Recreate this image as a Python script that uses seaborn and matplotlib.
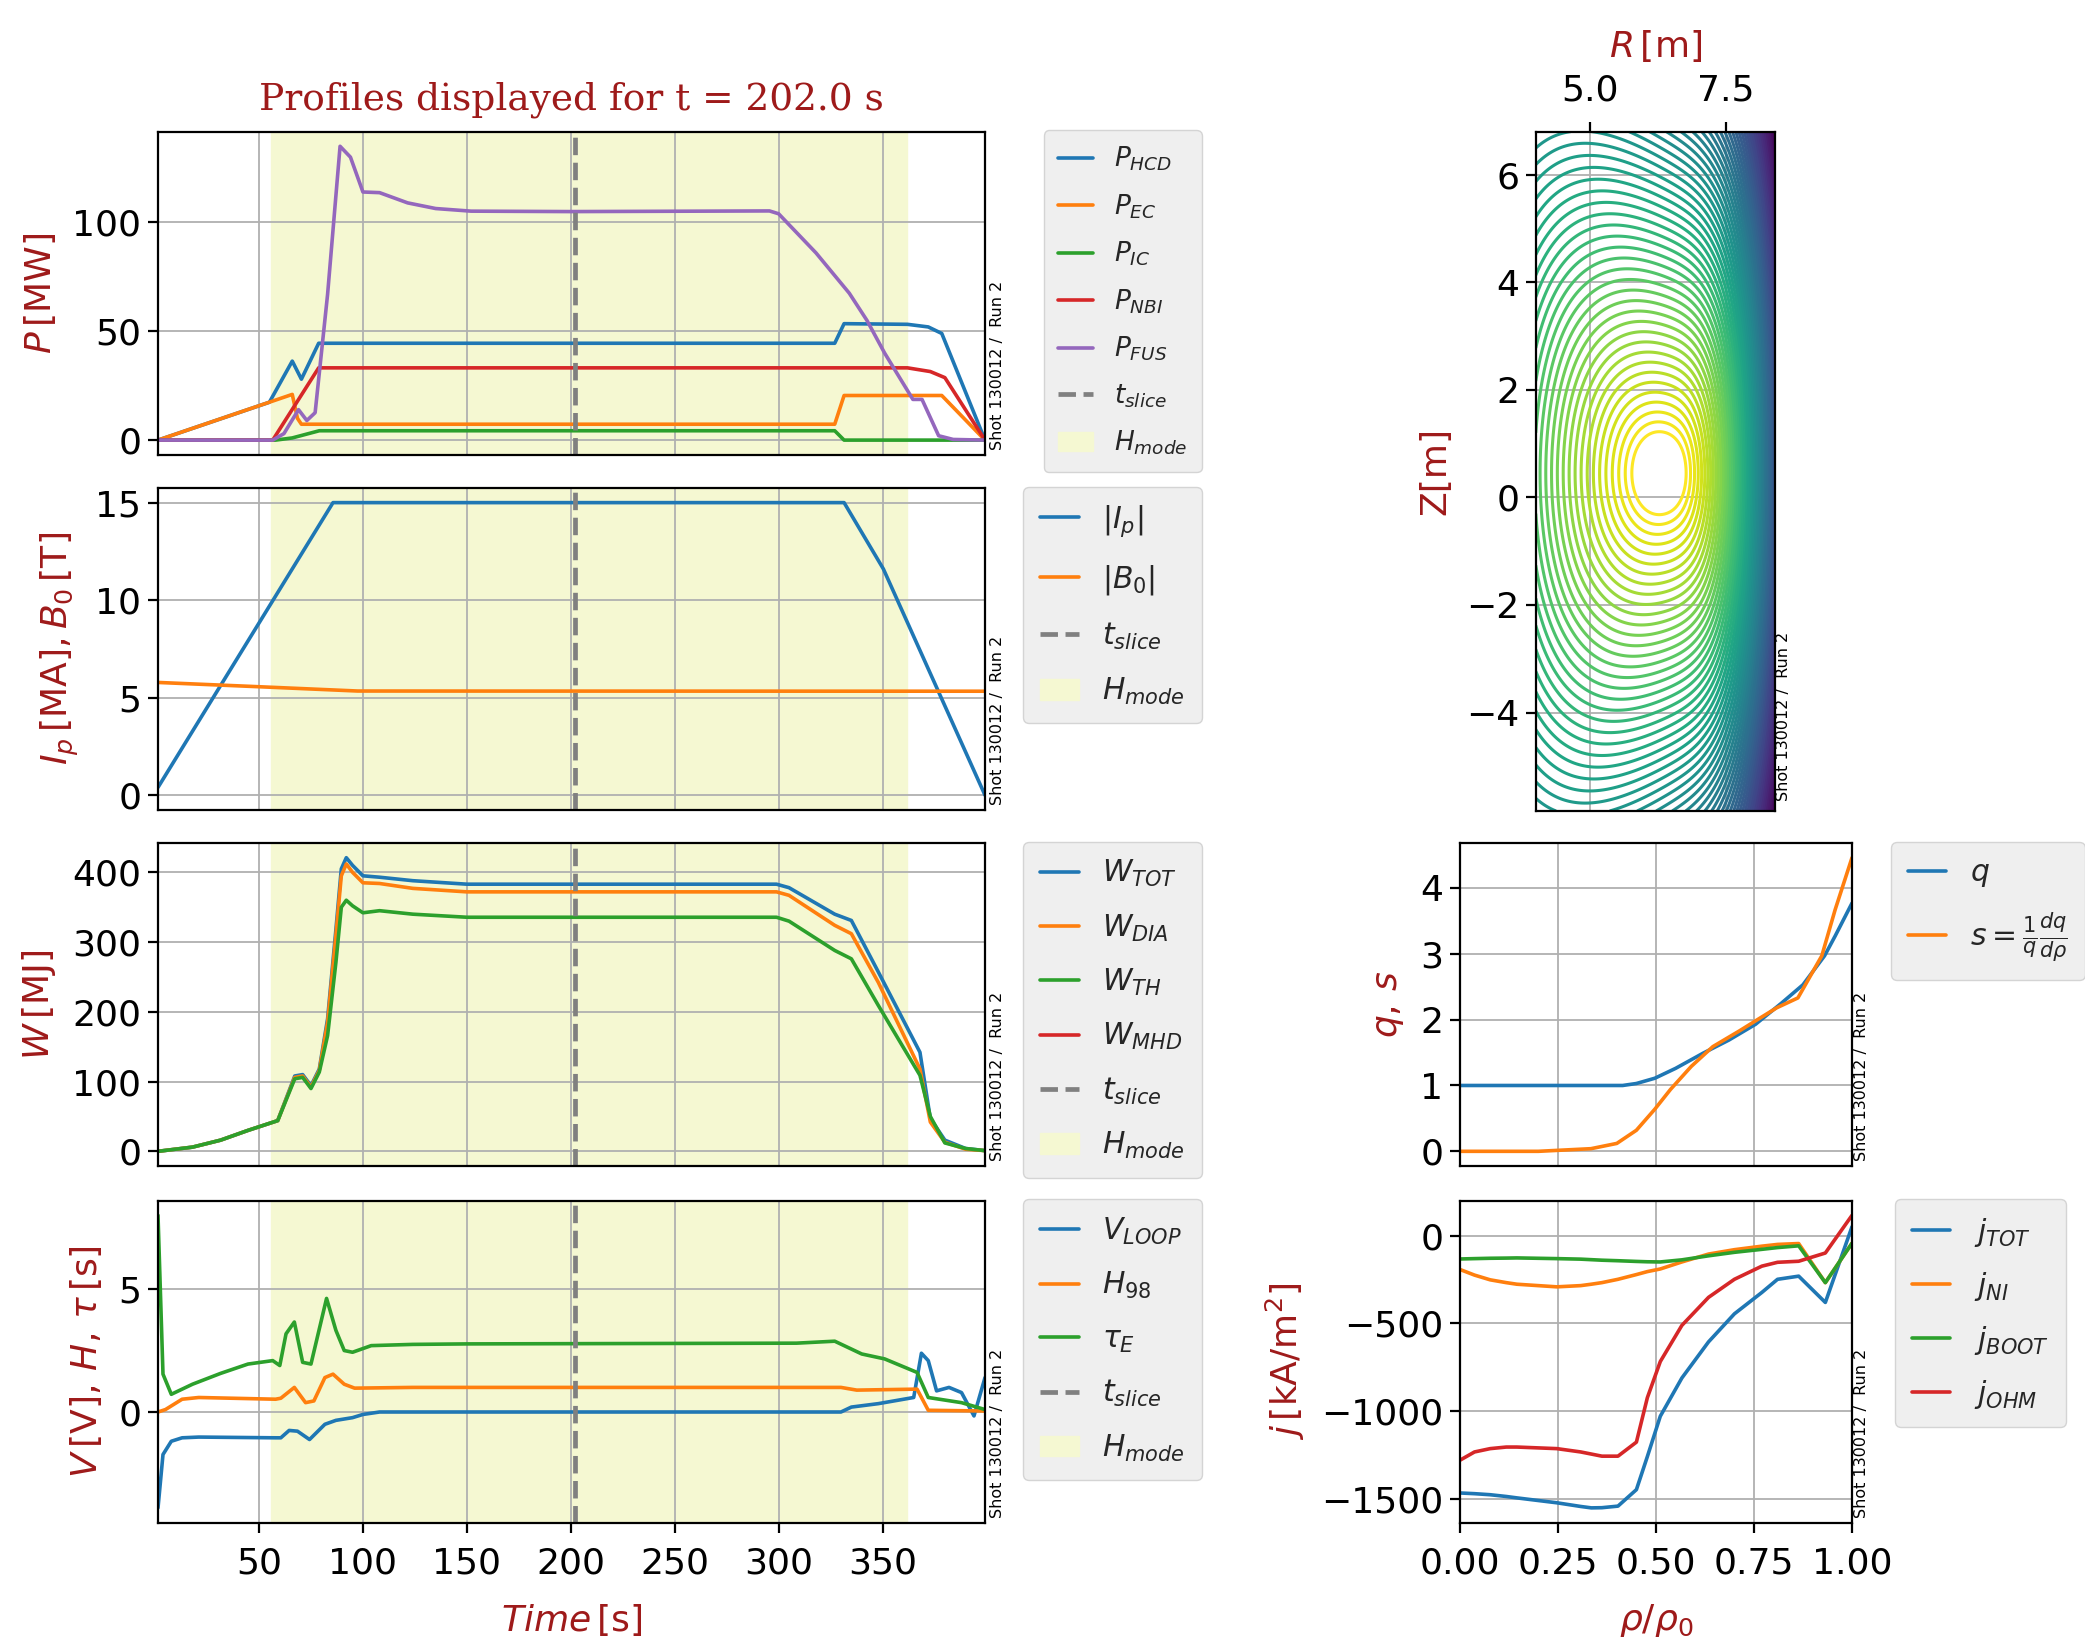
import numpy as np
import matplotlib
matplotlib.use("Agg")
import matplotlib.pyplot as plt
from matplotlib.ticker import FormatStrFormatter
import seaborn as sns

# ---------------------------------------------------------------- time traces
t_slice = 202.0
hmode_start, hmode_end = 56.0, 362.0
t_first, t_last = 1.4, 399.3
time_ticks = [50, 100, 150, 200, 250, 300, 350]

# heating powers [MW]
t_phcd = [1.4, 55, 66, 70.4, 78.7, 327, 331.5, 362, 372, 378.5, 399.3]
p_hcd = [0, 17.4, 36.3, 28, 44.5, 44.5, 53.5, 53.2, 52, 49, 0]
t_pec = [1.4, 66, 68.5, 70.4, 327, 331.5, 378.5, 399.3]
p_ec = [0, 21, 10, 7.3, 7.3, 20.5, 20.5, 0]
t_pic = [1.4, 58, 66, 79, 327, 331.5, 399.3]
p_ic = [0, 0, 1.0, 4.3, 4.3, 0, 0]
t_pnbi = [1.4, 56.6, 78.7, 362, 373, 380, 399.3]
p_nbi = [0, 0, 33.2, 33.2, 31.5, 28.7, 0]
t_pfus = [1.4, 56.6, 62, 69, 73, 77, 83, 89, 94, 100, 108, 121.5, 135, 152,
          200, 295.6, 300, 318, 334, 342.5, 351, 364.6, 369, 377, 384, 399.3]
p_fus = [0, 0, 3, 14, 9, 12.6, 67, 135, 130, 114, 113.7, 109, 106.4, 105.2,
         105, 105.3, 104, 86, 67.5, 55, 40, 18.7, 18.7, 2, 0.3, 0]

# plasma current [MA] and toroidal field [T]
t_ip = [1.4, 85.6, 331.5, 350.4, 399.3]
ip = [0.4, 15, 15, 11.6, 0]
t_b0 = [1.4, 50, 97.5, 399.3]
b0 = [5.78, 5.56, 5.34, 5.33]

# stored energies [MJ]
t_w = [1.4, 18, 31.5, 44.7, 59, 67.2, 71, 75, 79, 83, 87, 89.6, 92, 95, 100,
       108, 124, 150, 299, 305, 327, 335, 348, 368, 373, 380, 390, 399.3]
w_tot = [0, 6, 16, 30, 44, 108, 110, 94, 118, 190, 318, 405, 421, 410, 395,
         393, 388, 383, 383, 378, 340, 331, 257, 142, 47, 16, 4, 1]
w_dia = [0, 6, 16, 30, 44, 106, 108, 92, 116, 185, 310, 395, 412, 400, 385,
         384, 377, 372, 372, 367, 324, 312, 242, 118, 42, 13, 3, 1]
w_th = [0, 6, 16, 30, 44, 104, 106, 90, 113.6, 166, 271, 350, 360, 352, 342,
        345, 340, 335.6, 335.6, 330, 288, 276, 209, 109, 50, 12, 4, 1]
w_mhd = []

# loop voltage [V], confinement factor, energy confinement time [s]
t_vloop = [1.4, 3.8, 7.8, 13, 21, 58, 60.5, 64.5, 68.5, 74.3, 81.7, 87, 95,
           100, 108, 330, 335, 348, 365, 368.7, 372, 376, 382, 388, 394, 399.3]
v_loop = [-3.9, -1.73, -1.19, -1.05, -1.02, -1.05, -1.05, -0.75, -0.78,
          -1.12, -0.5, -0.34, -0.23, -0.1, 0.0, 0.0, 0.2, 0.34, 0.59, 2.39,
          2.09, 0.86, 1.0, 0.79, -0.16, 1.4]
t_h98 = [1.4, 5, 13, 21, 58, 60.5, 67, 72.4, 76.4, 81.7, 85.6, 91, 96, 124,
         330, 337.6, 366.6, 372, 399.3]
h98 = [0, 0.1, 0.52, 0.59, 0.52, 0.56, 1.0, 0.38, 0.45, 1.4, 1.54, 1.13, 0.97,
       1.0, 1.0, 0.89, 0.93, 0.07, 0.04]
t_tau = [1.4, 3.8, 7.8, 18, 31.5, 44.7, 56.6, 60, 63, 67, 71, 75, 82.5, 87,
         91, 95, 104, 124, 150, 308.6, 327, 340, 351, 366.6, 372, 388, 399.3]
tau_e = [8.0, 1.54, 0.72, 1.13, 1.57, 1.95, 2.09, 1.89, 3.18, 3.66, 2.02, 1.95,
         4.62, 3.32, 2.5, 2.43, 2.7, 2.75, 2.77, 2.8, 2.88, 2.36, 2.16, 1.61,
         0.59, 0.38, 0.1]

# ------------------------------------------------------------ radial profiles
rho_q = [0, 0.1, 0.2, 0.3, 0.415, 0.45, 0.497, 0.55, 0.62, 0.686, 0.754, 0.82,
         0.875, 0.93, 0.957, 1.0]
q_prof = [1.0, 1.0, 1.0, 1.0, 1.0, 1.03, 1.11, 1.26, 1.49, 1.69, 1.93, 2.25,
          2.53, 2.97, 3.27, 3.77]
rho_s = [0, 0.1, 0.2, 0.334, 0.40, 0.45, 0.497, 0.537, 0.59, 0.645, 0.713,
         0.767, 0.808, 0.862, 0.923, 0.957, 1.0]
s_prof = [0, 0, 0, 0.04, 0.12, 0.32, 0.64, 0.94, 1.29, 1.59, 1.83, 2.03, 2.18,
          2.33, 2.97, 3.67, 4.46]

rho_j = [0, 0.037, 0.077, 0.118, 0.145, 0.247, 0.308, 0.335, 0.362, 0.403,
         0.45, 0.478, 0.511, 0.566, 0.634, 0.70, 0.77, 0.81, 0.864, 0.932, 1.0]
j_tot = [-1468, -1472, -1478, -1488, -1496, -1524, -1545, -1553, -1552, -1543,
         -1449, -1260, -1030, -812, -606, -446, -324, -249, -231, -381, 51]
j_ni = [-193, -225, -252, -268, -277, -292, -285, -277, -268, -249, -222,
        -205, -190, -150, -105, -80, -60, -50, -45, -268, -43]
j_boot = [-133, -131, -129, -128, -127, -131, -134, -137, -140, -143, -147,
          -149, -150, -138, -115, -95, -78, -68, -58, -268, -43]
j_ohm = [-1281, -1234, -1215, -1206, -1206, -1215, -1234, -1246, -1258, -1258,
         -1178, -924, -718, -512, -352, -249, -174, -152, -146, -99, 116]

# ------------------------------------------------------- equilibrium flux map
r_axis, z_axis = 6.3, 0.45
r_min, r_max = 4.0, 8.4
z_min, z_max = -5.83, 6.8
elongation = 1.4
psi_first, psi_step = 0.55, 0.13

# ------------------------------------------------------------------- styling
label_red = "#9e1a1a"
hmode_color = "#f5f8d2"
line_w = 2.6
shot_tag = "Shot 130012 /  Run 2"

sns.set_theme(style="ticks", palette="tab10")
plt.rcParams.update({
    "font.family": ["DejaVu Sans"],
    "mathtext.fontset": "dejavusans",
    "axes.edgecolor": "black",
    "axes.linewidth": 1.6,
    "axes.facecolor": "white",
    "axes.labelpad": 10,
    "grid.color": "#b0b0b0",
    "grid.linewidth": 1.3,
    "xtick.labelsize": 26,
    "ytick.labelsize": 26,
    "xtick.color": "black",
    "ytick.color": "black",
    "xtick.major.size": 7,
    "ytick.major.size": 7,
    "xtick.major.width": 1.6,
    "ytick.major.width": 1.6,
    "xtick.major.pad": 10,
    "ytick.major.pad": 5,
    "legend.fontsize": 22,
})

W, H = 2085, 1646
fig = plt.figure(figsize=(W / 100, H / 100), dpi=100)


def box(x0, y0, x1, y1):
    return [x0 / W, 1 - y1 / H, (x1 - x0) / W, (y1 - y0) / H]


rows = [(131.6, 454.8), (488, 809.8), (843, 1166), (1200.7, 1522.5)]
lx0, lx1 = 158, 985
axP, axI, axW, axV = [fig.add_axes(box(lx0, a, lx1, b)) for a, b in rows]
axPsi = fig.add_axes(box(1535.8, 131.6, 1775, 811))
axQ = fig.add_axes(box(1460, 843, 1852, 1166))
axJ = fig.add_axes(box(1460, 1200.7, 1852, 1522.5))

legend_style = dict(borderaxespad=0, frameon=True, facecolor="#efefef",
                    edgecolor="#d4d4d4", framealpha=1, handlelength=1.3,
                    handletextpad=0.8, borderpad=0.55)


def trace(ax, t, v, color, label):
    sns.lineplot(x=t, y=v, ax=ax, color=color, linewidth=line_w, label=label,
                 estimator=None, sort=False)


def tag(ax):
    ax.text(1.006, 0.015, shot_tag, transform=ax.transAxes, rotation=90,
            fontsize=11.5, ha="left", va="bottom", color="black")


def time_panel(ax, series, ylabel, yticks, legend_size, spacing):
    for t, v, c, lab in series:
        if len(v):
            trace(ax, t, v, c, lab)
        else:
            ax.plot([], [], color=c, linewidth=line_w, label=lab)
    ax.axvline(t_slice, color="gray", linestyle="--", linewidth=3.4,
               label=r"$t_{slice}$")
    ax.axvspan(hmode_start, hmode_end, color=hmode_color, zorder=0.5,
               label=r"$H_{mode}$")
    ax.set_xlim(t_first, t_last)
    ax.set_xticks(time_ticks)
    ax.set_yticks(yticks)
    ax.grid(True)
    ax.set_ylabel(ylabel, color=label_red, fontsize=26)
    ax.set_xlabel("")
    ax.legend(loc="upper right", bbox_to_anchor=(1.262, 1.004),
              fontsize=legend_size, labelspacing=spacing, **legend_style)
    tag(ax)


time_panel(axP, [
    (t_phcd, p_hcd, "C0", r"$P_{HCD}$"),
    (t_pec, p_ec, "C1", r"$P_{EC}$"),
    (t_pic, p_ic, "C2", r"$P_{IC}$"),
    (t_pnbi, p_nbi, "C3", r"$P_{NBI}$"),
    (t_pfus, p_fus, "C4", r"$P_{FUS}$"),
], r"$P\,[\mathrm{MW}]$", [0, 50, 100], 19, 0.72)

time_panel(axI, [
    (t_ip, ip, "C0", r"$|I_p|$"),
    (t_b0, b0, "C1", r"$|B_0|$"),
], r"$I_p\,[\mathrm{MA}], B_0\,[\mathrm{T}]$", [0, 5, 10, 15], 21.5, 0.8)

time_panel(axW, [
    (t_w, w_tot, "C0", r"$W_{TOT}$"),
    (t_w, w_dia, "C1", r"$W_{DIA}$"),
    (t_w, w_th, "C2", r"$W_{TH}$"),
    ([], w_mhd, "C3", r"$W_{MHD}$"),
], r"$W\,[\mathrm{MJ}]$", [0, 100, 200, 300, 400], 21.5, 0.78)

time_panel(axV, [
    (t_vloop, v_loop, "C0", r"$V_{LOOP}$"),
    (t_h98, h98, "C1", r"$H_{98}$"),
    (t_tau, tau_e, "C2", r"$\tau_E$"),
], r"$V\,[\mathrm{V}],\,H,\,\tau\,[\mathrm{s}]$", [0, 5], 21.5, 0.78)

for ax in (axP, axI, axW):
    ax.tick_params(axis="x", bottom=False, labelbottom=False)
axV.set_xlabel(r"$Time\,[\mathrm{s}]$", color=label_red, fontsize=26,
               labelpad=16)

axP.set_title("Profiles displayed for t = 202.0 s", family="DejaVu Serif",
              color=label_red, fontsize=27, pad=16)

# -------------------------------------------------------------- flux surfaces
R = np.linspace(r_min, r_max, 400)
Z = np.linspace(z_min, z_max, 800)
RR, ZZ = np.meshgrid(R, Z)
dx = RR - r_axis
dz = ZZ - z_axis
inboard = np.clip(-dx, 0, None)
outboard = np.clip(dx, 0, None)
radial = dx ** 2 * (1 + 0.12 * inboard) + 1.83 * outboard ** 4
weight = (RR / r_axis) ** 1.2
psi = -np.sqrt(radial + weight * (dz / elongation) ** 2)
levels = -(psi_first + psi_step * np.arange(0, 90))
levels = np.sort(levels[levels > psi.min()])
axPsi.contour(RR, ZZ, psi, levels=levels, cmap="viridis", linewidths=2.2)
axPsi.set_xlim(r_min, r_max)
axPsi.set_ylim(z_min, z_max)
axPsi.grid(True)
axPsi.xaxis.tick_top()
axPsi.xaxis.set_label_position("top")
axPsi.set_xticks([5.0, 7.5])
axPsi.xaxis.set_major_formatter(FormatStrFormatter("%.1f"))
axPsi.set_yticks([-4, -2, 0, 2, 4, 6])
axPsi.set_xlabel(r"$R\,[\mathrm{m}]$", color=label_red, fontsize=26,
                 labelpad=12)
axPsi.set_ylabel("Z[m]", color=label_red, fontsize=26)
tag(axPsi)

# ------------------------------------------------------------- q and current
trace(axQ, rho_q, q_prof, "C0", r"$q$")
trace(axQ, rho_s, s_prof, "C1", r"$s=\frac{1}{q}\frac{dq}{d\rho}$")
axQ.set_ylabel(r"$q,\,s$", color=label_red, fontsize=26)
axQ.set_yticks([0, 1, 2, 3, 4])
axQ.tick_params(axis="x", bottom=False, labelbottom=False)

trace(axJ, rho_j, j_tot, "C0", r"$j_{TOT}$")
trace(axJ, rho_j, j_ni, "C1", r"$j_{NI}$")
trace(axJ, rho_j, j_boot, "C2", r"$j_{BOOT}$")
trace(axJ, rho_j, j_ohm, "C3", r"$j_{OHM}$")
axJ.set_ylabel(r"$j\,[\mathrm{kA/m^2}]$", color=label_red, fontsize=26)
axJ.set_xlabel(r"$\rho/\rho_0$", color=label_red, fontsize=26, labelpad=16)
axJ.set_yticks([0, -500, -1000, -1500])

for ax, anchor in ((axQ, 1.1), (axJ, 1.11)):
    ax.set_xlim(0, 1)
    ax.set_xticks([0, 0.25, 0.5, 0.75, 1.0])
    ax.xaxis.set_major_formatter(FormatStrFormatter("%.2f"))
    ax.grid(True)
    ax.legend(loc="upper left", bbox_to_anchor=(anchor, 1.004), fontsize=21.5,
              labelspacing=0.7, **legend_style)
    tag(ax)

fig.savefig("out.png", dpi=100, facecolor="white")
